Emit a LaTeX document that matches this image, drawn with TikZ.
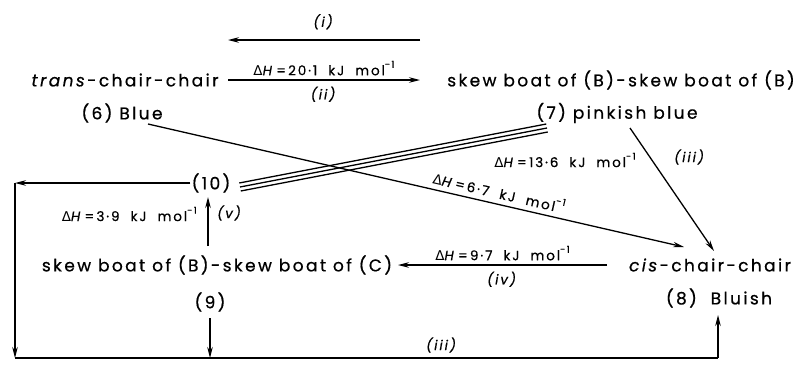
\documentclass[tikz,border=0pt]{standalone}
\usepackage{fontspec}
\setmainfont{Poppins}[LetterSpace=14,FakeBold=0.6]
\newfontfamily\djv{DejaVu Sans}
\usetikzlibrary{arrows.meta,calc}
\newcommand{\supm}{\raisebox{0.55em}{\fontsize{9.5}{10}\selectfont -1}}
\newcommand{\dH}[1]{{\djv Δ}\textit{H}\,=\,#1\ \ kJ\ \ mol\supm}
\tikzset{
  arr/.style={-{Stealth[length=11pt,width=5.5pt]}, line width=1.3pt},
  ln/.style={line width=1.3pt},
  big/.style={font=\fontsize{17}{19}\selectfont, inner sep=1pt},
  small/.style={font=\fontsize{13.5}{15}\selectfont, inner sep=1pt},
}
\begin{document}
\begin{tikzpicture}[x=1pt,y=-1pt]
\useasboundingbox (0,0) rectangle (812,365);
% main nodes
\node[big] (trans) at (125,80) {\textit{trans}-chair-chair};
\node[big] (sbB) at (621,80) {skew boat of (B)-skew boat of (B)};
\node[big] (n6) at (122,113) {(6) Blue};
\node[big] (n7) at (617,113) {(7) pinkish blue};
\node[big] (n10) at (211,183) {(10)};
\node[big] (sbC) at (217,265) {skew boat of (B)-skew boat of (C)};
\node[big] (n9) at (210,302) {(9)};
\node[big] (cis) at (710,265) {\textit{cis}-chair-chair};
\node[big] (n8) at (719,298) {(8)\ \ Bluish};
% coordinates
\coordinate (iS) at (420,40);
\coordinate (iE) at (228,40);
\coordinate (iiS) at (228,80);
\coordinate (iiE) at (420,80);
\coordinate (sixS) at (148,124);
\coordinate (sixE) at (684,247);
\coordinate (trA) at (240,187);
\coordinate (trB) at (547,128);
\coordinate (sevS) at (630,128);
\coordinate (sevE) at (714,251);
\coordinate (cTL) at (15,183);
\coordinate (cBL) at (15,358);
\coordinate (nineS) at (210,318);
\coordinate (nineE) at (210,358);
\coordinate (cBR) at (718,358);
\coordinate (eightE) at (718,315);
\coordinate (vS) at (208,246);
\coordinate (vE) at (208,197);
\coordinate (ivS) at (607,265);
\coordinate (ivE) at (398,265);
% arrows (i), (ii)
\draw[arr] (iS) -- (iE) node[small, midway, above=9pt] {\textit{(i)}};
\draw[arr] (iiS) -- (iiE)
  node[small, midway, above=3pt] {\dH{20·1}}
  node[small, midway, below=5pt] {\textit{(ii)}};
% (6) -> cis
\draw[arr] (sixS) -- (sixE)
  node[small, pos=0.65, sloped, above=4pt] {\dH{6·7}};
% triple line
\foreach \o in {-4,0,4} {
  \draw[ln] ($(trA)+(0.75*\o/4,\o)$) -- ($(trB)+(0.75*\o/4,\o)$);
}
\node[small] (l136) at (565,160) {\dH{13·6}};
% (7) -> cis
\draw[arr] (sevS) -- (sevE);
\node[small] (l3a) at (690,157) {\textit{(iii)}};
% (10) loop
\draw[arr] (n10.west) -- (cTL);
\draw[arr] (cTL) -- (cBL);
\draw[arr] (nineS) -- (nineE);
\draw[ln] (cBL) -- (cBR);
\draw[arr] (cBR) -- (eightE);
\node[small] (l3b) at (442,345) {\textit{(iii)}};
% (v)
\draw[arr] (vS) -- (vE);
\node[small, anchor=east] (l39) at (198,214) {\dH{3·9}};
\node[small, anchor=west] (lv) at (216,213) {\textit{(v)}};
% (iv)
\draw[arr] (ivS) -- (ivE)
  node[small, midway, above=3pt] {\dH{9·7}}
  node[small, midway, below=5pt] {\textit{(iv)}};
\end{tikzpicture}
\end{document}
